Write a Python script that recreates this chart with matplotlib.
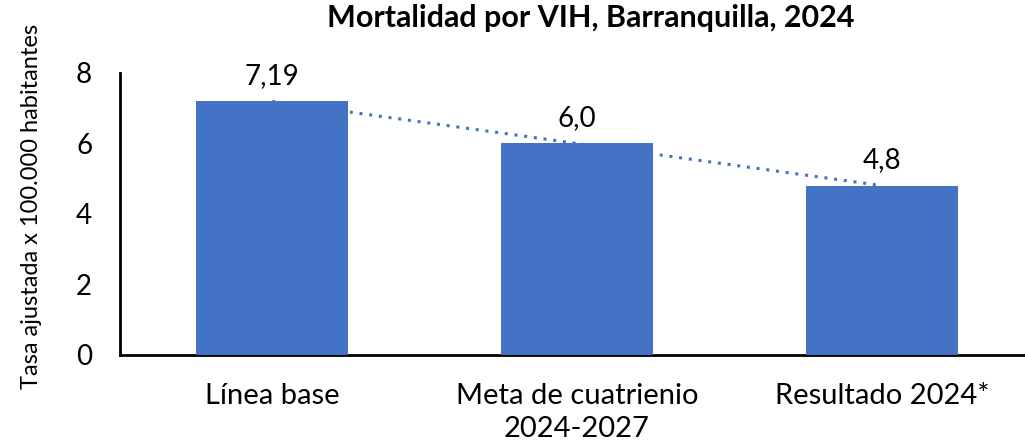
import matplotlib.pyplot as plt
import numpy as np

categories = ['Línea base', 'Meta de cuatrienio\n2024-2027', 'Resultado 2024*']
values = [7.19, 6.0, 4.8]
labels = ['7,19', '6,0', '4,8']

plt.rcParams['font.family'] = ['Lato', 'DejaVu Sans']

fig = plt.figure(figsize=(10.25, 4.47), dpi=100)
ax = fig.add_axes([0.117, 0.206, 0.883, 0.631])

x = np.arange(len(categories))
color = '#4472C4'
bars = ax.bar(x, values, width=0.5, color=color, zorder=3)

# linear trendline behind the bars
coef = np.polyfit(x, values, 1)
ax.plot(x, np.polyval(coef, x), linestyle=(0, (1, 2.2)), color=color,
        linewidth=2.2, zorder=2)

for bar, lab in zip(bars, labels):
    ax.annotate(lab, xy=(bar.get_x() + bar.get_width() / 2, bar.get_height()),
                xytext=(0, 9), textcoords='offset points',
                ha='center', va='bottom', fontsize=20)

ax.set_xlim(-0.5, 2.47)
ax.set_ylim(0, 8)
ax.set_yticks([0, 2, 4, 6, 8])
ax.set_xticks(x)
ax.set_xticklabels(categories, fontsize=21, linespacing=1.35)
ax.tick_params(axis='y', labelsize=20, length=0, pad=20)
ax.tick_params(axis='x', length=0, pad=20)

for side in ['top', 'right']:
    ax.spines[side].set_visible(False)
for side in ['left', 'bottom']:
    ax.spines[side].set_linewidth(2)

ax.set_ylabel('Tasa ajustada x 100.000 habitantes', fontsize=17)
ax.yaxis.set_label_coords(-0.086, 0.525)
fig.suptitle('Mortalidad por VIH, Barranquilla, 2024', fontsize=22,
             fontweight='bold', x=0.576, y=0.99)

fig.savefig('out.png', dpi=100)
